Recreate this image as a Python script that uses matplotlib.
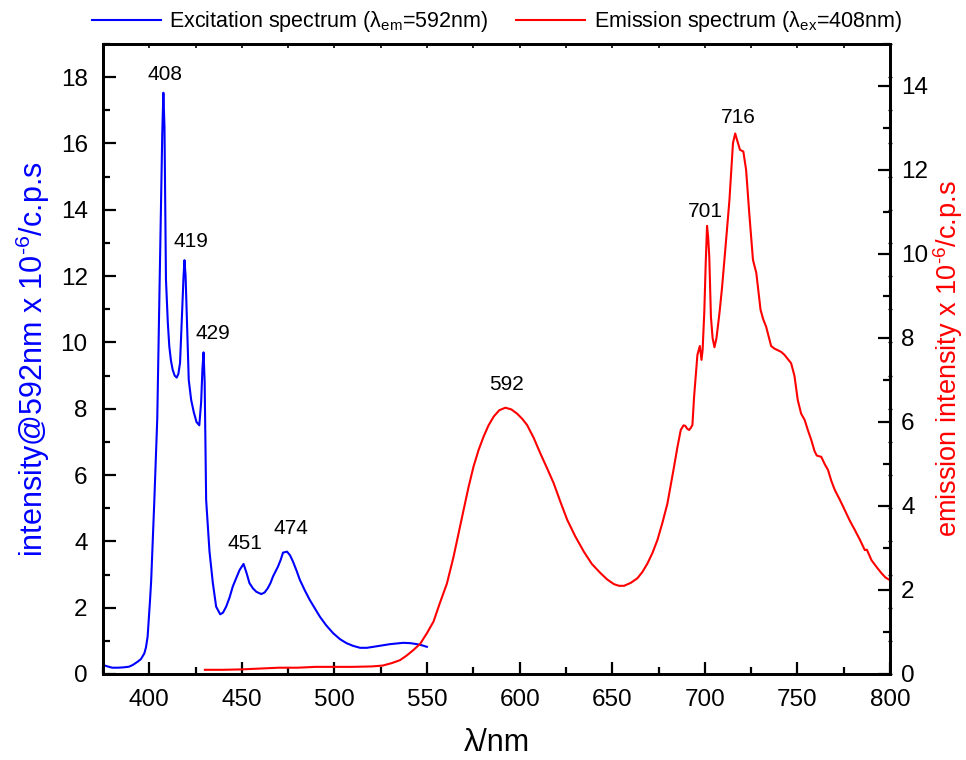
import matplotlib
matplotlib.use('Agg')
import matplotlib.pyplot as plt
import numpy as np
from matplotlib.ticker import MultipleLocator

plt.rcParams['font.family'] = ['Liberation Sans', 'DejaVu Sans']
plt.rcParams['mathtext.fontset'] = 'custom'
plt.rcParams['mathtext.rm'] = 'Liberation Sans'
plt.rcParams['mathtext.it'] = 'Liberation Sans:italic'

# excitation spectrum (left axis)
exc_wl = [375, 378, 380, 383, 386, 389, 391, 393.7, 395.5, 397.3, 398.2, 399.1, 400.4, 401, 402.7,
          404.3, 405.9, 407, 407.6, 408.2, 409, 410, 410.8, 411.7, 412.6, 413.7, 414.8, 415.7, 416.6,
          417.7, 418.5, 419, 419.6, 420.2, 421.3, 422.6, 424, 425.5, 427, 428, 428.7, 429.3, 429.9,
          430.7, 432.5, 434.3, 436.1, 438.3, 439.8, 441.5, 443.3, 445.1, 447, 448.8, 450.9, 452.5,
          454.1, 456, 457.8, 460.5, 462.3, 464, 465.5, 466.8, 469.5, 471, 472.2, 474.4, 476, 477.6,
          479.5, 481.3, 484, 486.7, 489.5, 492.1, 495.5, 499.3, 503, 506.5, 510, 513.8, 517.5, 521,
          525.5, 530, 533.5, 537.2, 541, 544.5, 547, 549.9]
exc_val = [0.27, 0.22, 0.19, 0.19, 0.2, 0.22, 0.27, 0.37, 0.45, 0.62, 0.8, 1.13, 2.23, 2.8, 5.2,
           7.7, 12.8, 16.3, 17.53, 16.5, 11.9, 10.6, 9.88, 9.45, 9.18, 9.0, 8.94, 9.05, 9.38,
           10.89, 12.0, 12.48, 12.0, 10.9, 8.87, 8.27, 7.9, 7.6, 7.5, 8.2, 9.2, 9.7, 8.8,
           5.25, 3.7, 2.75, 2.03, 1.8, 1.85, 2.03, 2.3, 2.64, 2.9, 3.14, 3.32, 3.05,
           2.74, 2.58, 2.48, 2.41, 2.46, 2.59, 2.75, 2.94, 3.24, 3.45, 3.66, 3.69, 3.58, 3.39,
           3.12, 2.84, 2.52, 2.23, 1.97, 1.73, 1.47, 1.23, 1.05, 0.93, 0.85, 0.79, 0.79, 0.82,
           0.86, 0.9, 0.92, 0.94, 0.93, 0.9, 0.87, 0.82]

# emission spectrum (right axis)
emi_wl = [430, 440, 450, 460, 470, 480, 490, 500, 510, 520, 526, 531, 535.4, 539, 542.6, 546.3,
          549.9, 553.5, 557, 560.7, 564.3, 567, 569.7, 572.4, 575.1, 577.8, 580.5, 583.2, 586, 589,
          592.3, 595.5, 598.6, 601.3, 604, 607.6, 611.2, 614.8, 618.4, 622, 625.7, 630, 634.7, 639,
          643.7, 647.3, 650.9, 653.6, 656.4, 660, 663.6, 666.3, 669, 671.7, 674.4, 677.1, 679.8,
          681.6, 683.4, 685.2, 687, 688.5, 689.4, 690.5, 691.5, 692.4, 693.3, 694.2, 695.1, 696,
          697.3, 698.2, 698.8, 699.7, 700.5, 701.2, 701.8, 702.4, 703.3, 704.2, 705.2, 706.3, 707.9,
          709.3, 710.6, 712, 713.3, 714.3, 715.2, 716.4, 717.5, 719, 720.8, 722.3, 724, 726, 727.8,
          730.1, 731.5, 733.1, 735.8, 737.5, 739.4, 741.2, 743, 744.8, 746.6, 748.4, 750.2, 752,
          753.9, 755.7, 757.5, 759.3, 760.5, 762.9, 764.7, 766.5, 768.3, 770.2, 772.9, 775.6, 778.3,
          781, 783.7, 786.4, 787.5, 790, 792.7, 795.4, 797.5, 799.7]
emi_val = [0.1, 0.1, 0.11, 0.13, 0.15, 0.15, 0.17, 0.17, 0.17, 0.18, 0.2, 0.26, 0.33, 0.44, 0.57, 0.72,
           0.97, 1.25, 1.7, 2.15, 2.79, 3.35, 3.9, 4.45, 4.94, 5.33, 5.65, 5.92, 6.13, 6.28,
           6.34, 6.3, 6.2, 6.08, 5.93, 5.62, 5.25, 4.9, 4.54, 4.1, 3.67, 3.28, 2.91, 2.62,
           2.4, 2.25, 2.14, 2.1, 2.1, 2.17, 2.28, 2.43, 2.63, 2.88, 3.19, 3.6, 4.06,
           4.5, 4.94, 5.4, 5.81, 5.92, 5.91, 5.84, 5.81, 5.86, 5.93, 6.6, 7.1, 7.6,
           7.81, 7.48, 7.71, 8.6, 9.8, 10.67, 10.4, 9.94, 8.5, 8.0, 7.78, 8.0, 8.59,
           9.2, 9.86, 10.6, 11.29, 12.0, 12.64, 12.87, 12.7, 12.48, 12.44, 12.0, 10.97, 9.86, 9.55,
           8.67, 8.45, 8.27, 7.81, 7.75, 7.71, 7.67, 7.6, 7.5, 7.4, 7.1, 6.52, 6.2,
           6.05, 5.8, 5.57, 5.3, 5.2, 5.17, 5.0, 4.86, 4.6, 4.38, 4.15, 3.9, 3.65,
           3.43, 3.2, 2.95, 2.96, 2.71, 2.55, 2.4, 2.3, 2.24]

exc_peaks = [408, 419, 429, 451, 474]
emi_peaks = [592, 701, 716]


def peak_top(wl, val, p, win=3):
    # highest point of the curve near the labelled wavelength
    wl = np.asarray(wl)
    val = np.asarray(val)
    m = np.abs(wl - p) <= win
    i = np.argmax(val[m])
    return wl[m][i], val[m][i]


fig = plt.figure(figsize=(9.66, 7.6), dpi=100)
ax = fig.add_axes([103/966, 1-674/760, 787/966, 630/760])
ax2 = ax.twinx()

l1, = ax.plot(exc_wl, exc_val, color='#0000ff', lw=1.5, label=r'Excitation spectrum (λ$_{\mathrm{em}}$=592nm)')
l2, = ax2.plot(emi_wl, emi_val, color='#ff0000', lw=1.5, label=r'Emission spectrum (λ$_{\mathrm{ex}}$=408nm)')

ax.set_xlim(375, 800)
ax.set_ylim(0, 19)
ax2.set_ylim(0, 15)
ax.set_xticks(np.arange(400, 801, 50))
ax.xaxis.set_minor_locator(MultipleLocator(25))
ax.set_yticks(np.arange(0, 19, 2))
ax.yaxis.set_minor_locator(MultipleLocator(1))
ax2.set_yticks(np.arange(0, 15, 2))
ax2.yaxis.set_minor_locator(MultipleLocator(1))

for a in (ax, ax2):
    for s in a.spines.values():
        s.set_linewidth(2)
ax.tick_params(axis='both', which='major', direction='in', length=9, width=1.6, labelsize=17.5, pad=11)
ax.tick_params(axis='both', which='minor', direction='in', length=5, width=1.6)
ax2.tick_params(axis='y', which='major', direction='in', length=9, width=1.6, labelsize=17.5, pad=8)
ax2.tick_params(axis='y', which='minor', direction='in', length=5, width=1.6)

# tiny ticks on top and on right spine
top = ax.secondary_xaxis('top')
top.set_xticks(np.arange(375, 801, 25))
top.tick_params(direction='in', length=3, width=1.2, labeltop=False)
rgt = ax.secondary_yaxis('right')
rgt.set_yticks(np.arange(0, 20, 1))
rgt.tick_params(direction='inout', length=3, width=1, labelright=False)

ax.set_xlabel('λ/nm', fontsize=22, labelpad=12)
ax.set_ylabel(r'intensity@592nm x 10$^{\text{-6}}$/c.p.s', fontsize=22, color='#0000ff', labelpad=6)
ax2.set_ylabel(r'emission intensity x 10$^{\text{-6}}$/c.p.s', fontsize=19.5, color='#ff0000', labelpad=2)

exc_off = [(1.5, 13), (5, 13.5), (6.5, 13.5), (1, 15), (3, 16.5)]
for p, off in zip(exc_peaks, exc_off):
    ax.annotate(str(p), peak_top(exc_wl, exc_val, p), xytext=off, textcoords='offset points',
                ha='center', va='center', fontsize=15)
emi_off = [(1, 16.5), (-1, 10), (2, 11.5)]
for p, off in zip(emi_peaks, emi_off):
    ax2.annotate(str(p), peak_top(emi_wl, emi_val, p), xytext=off, textcoords='offset points',
                 ha='center', va='center', fontsize=15)

fig.legend([l1, l2], [l1.get_label(), l2.get_label()], loc='center', bbox_to_anchor=(497/966, 1-22/760),
           ncol=2, frameon=False, fontsize=15.5, handlelength=3.2, handletextpad=0.4,
           columnspacing=1.3, borderaxespad=0, borderpad=0)

fig.savefig('out.png', dpi=100)
